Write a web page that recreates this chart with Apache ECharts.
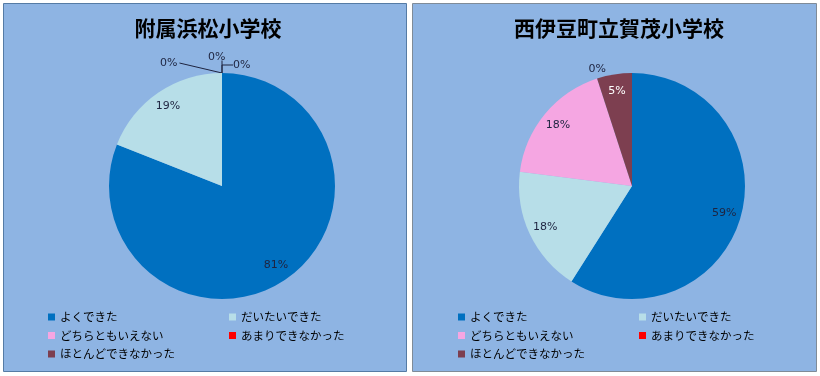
<!DOCTYPE html>
<html>
<head>
<meta charset="utf-8">
<script src="https://cdn.jsdelivr.net/npm/echarts@6/dist/echarts.min.js"></script>
<style>
html, body { margin: 0; padding: 0; background: #fff; }
#main { width: 820px; height: 376px; }
</style>
</head>
<body>
<div id="main"></div>
<script>
var categories = ['よくできた', 'だいたいできた', 'どちらともいえない', 'あまりできなかった', 'ほとんどできなかった'];
var hamamatsu = [81, 19, 0, 0, 0];
var kamo = [59, 18, 18, 0, 5];
var titles = ['附属浜松小学校', '西伊豆町立賀茂小学校'];

var colors = ['#0070C0', '#B7DEE8', '#F5A6E2', '#FF0000', '#7D3F50'];
var textDark = '#1E2440';
var jp = '"Noto Sans CJK JP", sans-serif';

var myChart = echarts.init(document.getElementById('main'));

// 0%ラベルのずらし量と、引き出し線をつなぐ側
var zeroShiftLeft = { 2: [-70, 0, 'right'], 3: [-22, -6, 'bottom'], 4: [3, 2, 'left'] };

function shiftLabel(p, s) {
    var r = p.labelRect;
    var a = p.labelLinePoints ? p.labelLinePoints[0] : null;
    var x = r.x + s[0], y = r.y + s[1];
    var out = { dx: s[0], dy: s[1] };
    if (a) {
        var cy = y + r.height / 2;
        if (s[2] === 'right') {
            out.labelLinePoints = [a, [x + r.width + 2, cy]];
        } else if (s[2] === 'bottom') {
            out.labelLinePoints = [a, [a[0], y + r.height - 2]];
        } else {
            out.labelLinePoints = [a, [a[0], cy], [x, cy]];
        }
    }
    return out;
}

function mainPie(values, cx, opts) {
    return {
        type: 'pie',
        center: [cx, 186],
        radius: [0, 113],
        startAngle: 90,
        clockwise: true,
        avoidLabelOverlap: false,
        silent: true,
        label: {
            position: 'outside',
            formatter: '{c}%',
            fontSize: 11,
            fontFamily: 'DejaVu Sans',
            color: textDark
        },
        labelLine: {
            show: opts.line,
            length: opts.len,
            length2: opts.len2,
            lineStyle: { color: textDark, width: 1 }
        },
        labelLayout: opts.shift ? function (p) {
            var s = opts.shift[p.dataIndex];
            return s ? shiftLabel(p, s) : {};
        } : null,
        data: values.map(function (v, i) {
            return {
                name: categories[i],
                value: v,
                itemStyle: { color: colors[i] },
                label: { show: v === 0 },
                labelLine: { show: opts.line && v === 0 }
            };
        })
    };
}

// 内側ラベル用の透明なリング（ラベルを半径の約0.82に置く）
function labelRing(values, cx) {
    return {
        type: 'pie',
        center: [cx, 186],
        radius: [73, 113],
        startAngle: 90,
        clockwise: true,
        silent: true,
        legendHoverLink: false,
        itemStyle: { color: 'rgba(0,0,0,0)' },
        label: {
            position: 'inside',
            formatter: '{c}%',
            fontSize: 11,
            fontFamily: 'DejaVu Sans',
            color: textDark
        },
        labelLine: { show: false },
        data: values.map(function (v, i) {
            return {
                name: categories[i],
                value: v,
                label: { show: v > 0, color: i === 4 ? '#fff' : textDark }
            };
        })
    };
}

function legendCol(left, names) {
    return {
        orient: 'vertical',
        left: left,
        top: 310,
        padding: 0,
        icon: 'rect',
        itemWidth: 7,
        itemHeight: 7,
        itemGap: 4.5,
        selectedMode: false,
        textStyle: { fontSize: 11.5, lineHeight: 14, fontFamily: jp, color: '#000' },
        data: names
    };
}

var col1 = [categories[0], categories[2], categories[4]];
var col2 = [categories[1], categories[3]];

option = {
    backgroundColor: '#fff',
    animation: false,
    graphic: [
        { type: 'rect', z: -10, shape: { x: 3.5, y: 3.5, width: 403, height: 368 },
          style: { fill: '#8EB4E3', stroke: '#557BA5', lineWidth: 1 } },
        { type: 'rect', z: -10, shape: { x: 412.5, y: 3.5, width: 404, height: 368 },
          style: { fill: '#8EB4E3', stroke: '#7F8B98', lineWidth: 1 } }
    ],
    title: [
        { text: titles[0], left: 203, top: 13, textAlign: 'center',
          textStyle: { fontSize: 21, fontWeight: 'bold', fontFamily: jp, color: '#000' } },
        { text: titles[1], left: 614, top: 13, textAlign: 'center',
          textStyle: { fontSize: 21, fontWeight: 'bold', fontFamily: jp, color: '#000' } }
    ],
    legend: [
        legendCol(48, col1),
        legendCol(229, col2),
        legendCol(458, col1),
        legendCol(639, col2)
    ],
    series: [
        mainPie(hamamatsu, 222, { line: true, len: 10, len2: 3, shift: zeroShiftLeft }),
        mainPie(kamo, 632, { line: false, len: 10, len2: -17 }),
        labelRing(hamamatsu, 222),
        labelRing(kamo, 632)
    ]
};
myChart.setOption(option, true);

window.onresize = function () {
    myChart.resize();
};
</script>
</body>
</html>
